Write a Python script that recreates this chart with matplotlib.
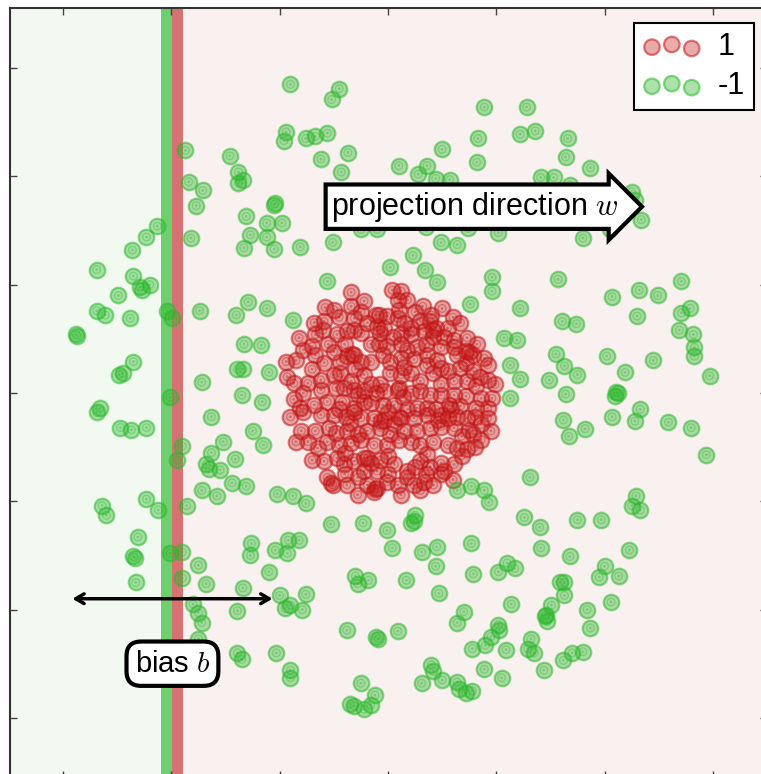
import matplotlib
matplotlib.use("Agg")
import matplotlib.pyplot as plt
import numpy as np

plt.rcParams['font.family'] = ['Liberation Sans', 'DejaVu Sans']
plt.rcParams['mathtext.fontset'] = 'cm'

# class 1 (red) - inner disc
red_points = [
    (-0.34, 0.93), (0.04, 0.95), (0.12, 0.94), (0.09, 0.86), (0.18, 0.86), (-0.22, 0.85),
    (-0.58, 0.79), (-0.50, 0.77), (-0.34, 0.80), (-0.08, 0.72), (-0.01, 0.71), (0.10, 0.77),
    (0.32, 0.80), (0.50, 0.78), (0.67, 0.65),
    (-0.68, 0.65), (-0.59, 0.66), (-0.31, 0.69), (-0.19, 0.65), (-0.11, 0.72), (-0.04, 0.60),
    (0.09, 0.69), (0.21, 0.60), (0.30, 0.66), (0.39, 0.66), (0.44, 0.60), (0.55, 0.60),
    (-0.67, 0.54), (-0.47, 0.54), (-0.38, 0.57), (-0.31, 0.58), (-0.25, 0.55), (-0.07, 0.55),
    (0.12, 0.54), (0.21, 0.54), (0.33, 0.57), (0.42, 0.52), (0.52, 0.52), (0.61, 0.49),
    (0.73, 0.51), (0.75, 0.38), (-0.82, 0.51), (-0.70, 0.43),
    (-0.67, 0.35), (-0.50, 0.38), (-0.38, 0.34), (-0.31, 0.35), (-0.16, 0.45), (-0.08, 0.45),
    (-0.01, 0.43), (0.12, 0.45), (0.18, 0.40), (0.27, 0.42), (0.36, 0.35), (0.49, 0.42),
    (0.61, 0.42), (0.64, 0.35), (0.79, 0.35), (0.89, 0.32),
    (-0.94, 0.29), (-0.59, 0.28), (-0.44, 0.29), (-0.25, 0.29), (-0.16, 0.29), (0.02, 0.29),
    (0.12, 0.32), (0.24, 0.31), (0.36, 0.26), (0.49, 0.23), (0.55, 0.20), (0.67, 0.23),
    (0.79, 0.20), (0.92, 0.26),
    (-0.93, 0.15), (-0.87, 0.09), (-0.74, 0.09), (-0.62, 0.12), (-0.50, 0.17), (-0.44, 0.18),
    (-0.34, 0.11), (-0.22, 0.17), (-0.16, 0.08), (-0.07, 0.08), (0.02, 0.18), (0.12, 0.17),
    (0.21, 0.18), (0.30, 0.11), (0.42, 0.18), (0.49, 0.08), (0.61, 0.11), (0.73, 0.11),
    (0.81, 0.06), (0.92, 0.12), (0.99, 0.08),
    (-0.62, 0.03), (-0.48, 0.05), (-0.41, 0.05), (-0.31, 0.03), (-0.22, 0.02), (-0.11, 0.00),
    (-0.04, 0.02), (0.09, 0.03), (0.21, 0.00), (0.30, 0.02), (0.39, -0.02), (0.49, -0.02),
    (0.61, -0.02), (0.86, -0.05), (0.96, -0.05),
    (-0.87, -0.06), (-0.81, -0.14), (-0.68, -0.11), (-0.56, -0.08), (-0.42, -0.08), (-0.31, -0.14),
    (-0.22, -0.08), (-0.16, -0.09), (-0.05, -0.11), (0.06, -0.11), (0.18, -0.15), (0.27, -0.14),
    (0.36, -0.14), (0.44, -0.15), (0.56, -0.11), (0.67, -0.12), (0.81, -0.14), (0.92, -0.14),
    (-0.78, -0.18), (-0.62, -0.20), (-0.50, -0.20), (-0.39, -0.22), (-0.31, -0.18), (-0.25, -0.23),
    (-0.13, -0.23), (-0.04, -0.25), (0.06, -0.29), (0.12, -0.23), (0.24, -0.23), (0.36, -0.20),
    (0.46, -0.25), (0.55, -0.23), (0.64, -0.22), (0.73, -0.23), (0.86, -0.29), (0.92, -0.23),
    (-0.67, -0.35), (-0.54, -0.32), (-0.48, -0.37), (-0.38, -0.35), (-0.28, -0.38), (-0.19, -0.35),
    (-0.07, -0.32), (0.02, -0.38), (0.15, -0.35), (0.27, -0.35), (0.39, -0.32), (0.49, -0.31),
    (0.61, -0.32), (0.75, -0.34), (0.79, -0.38), (0.86, -0.43),
    (-0.74, -0.45), (-0.65, -0.51), (-0.56, -0.45), (-0.45, -0.48), (-0.34, -0.46), (-0.25, -0.43),
    (-0.13, -0.48), (-0.01, -0.48), (0.10, -0.43), (0.21, -0.45), (0.30, -0.48), (0.42, -0.45),
    (0.55, -0.48), (0.64, -0.51), (0.73, -0.52),
    (-0.59, -0.63), (-0.47, -0.60), (-0.41, -0.66), (-0.31, -0.63), (-0.22, -0.60), (-0.16, -0.65),
    (-0.07, -0.62), (0.06, -0.66), (0.18, -0.72), (0.30, -0.63), (0.39, -0.68), (0.49, -0.65),
    (0.61, -0.66), (0.52, -0.72),
    (-0.56, -0.78), (-0.51, -0.85), (-0.38, -0.85), (-0.28, -0.78), (-0.19, -0.85), (-0.10, -0.88),
    (-0.01, -0.82), (0.09, -0.85), (0.18, -0.78), (0.24, -0.85), (0.33, -0.82), (0.42, -0.85),
    (0.49, -0.75), (-0.28, -0.94), (0.12, -0.94), (-0.13, -0.91),
    (-0.33, 0.36), (-0.06, -0.26), (-0.19, -0.60), (0.58, -0.15), (0.72, 0.39), (-0.53, -0.83),
    (-0.12, -0.89), (0.10, 0.05), (-0.10, 0.61), (0.42, 0.58),
    (-0.45, 0.70), (-0.25, 0.75), (0.25, 0.75), (0.40, 0.72), (0.60, 0.70), (-0.78, 0.40),
    (-0.55, 0.45), (0.05, 0.52), (0.35, 0.45), (0.82, 0.45), (-0.85, 0.30), (-0.05, 0.35),
    (0.45, 0.30), (0.72, 0.28), (-0.70, 0.22), (-0.30, 0.22), (0.15, 0.24), (0.85, 0.15),
    (-0.78, 0.00), (-0.28, -0.02), (0.14, -0.04), (0.72, -0.03), (-0.90, -0.22), (-0.45, -0.15),
    (0.00, -0.18), (0.50, -0.20), (0.80, -0.22), (-0.80, -0.35), (-0.35, -0.28), (0.10, -0.22),
    (0.68, -0.40), (-0.85, -0.45), (-0.40, -0.55), (0.00, -0.58), (0.36, -0.56), (0.80, -0.50),
    (-0.70, -0.62), (-0.10, -0.72), (0.25, -0.68), (0.68, -0.58), (-0.40, -0.75), (0.00, -0.75),
    (0.35, -0.75), (-0.22, -0.72), (0.60, -0.80), (-0.60, 0.58), (0.15, 0.65), (-0.40, 0.45),
    (0.95, -0.35), (0.30, -0.90),
]

# class -1 (green) - outer ring
green_points = [
    (-1.87, 2.24), (-1.46, 2.19), (-1.38, 2.04), (-1.34, 1.97), (-1.38, 1.94), (-1.84, 1.95),
    (-1.71, 1.87), (-1.77, 1.73), (-2.13, 1.54), (-2.23, 1.44), (-1.82, 1.43), (-2.36, 1.32),
    (-1.31, 1.63), (-1.27, 1.46), (-1.33, 1.34),
    (-0.90, 2.85), (-0.45, 2.81), (-0.52, 2.71), (0.89, 2.64), (-0.94, 2.41), (-0.96, 2.33),
    (-0.76, 2.35), (-0.67, 2.37), (-0.56, 2.40), (0.83, 2.35), (0.50, 2.25), (-0.37, 2.22),
    (-0.62, 2.16), (0.82, 2.13), (-0.43, 2.04), (0.10, 2.10), (0.36, 2.10), (0.28, 2.02),
    (0.44, 1.98), (0.57, 1.97), (-1.05, 1.74), (-1.04, 1.75), (-1.12, 1.57), (-0.98, 1.57),
    (-1.12, 1.44), (-1.05, 1.33), (-0.81, 1.35), (-0.51, 1.39), (-0.25, 1.51), (-0.10, 1.51),
    (0.49, 1.39), (0.64, 1.37), (0.23, 1.27), (0.35, 1.53), (0.74, 1.52), (1.02, 1.48),
    (1.28, 2.64), (1.22, 2.39), (1.36, 2.42), (1.66, 2.35), (1.64, 2.18), (1.87, 2.08),
    (1.41, 1.99), (1.53, 1.99), (1.68, 1.92), (2.25, 1.86), (2.28, 1.78), (2.34, 1.60),
    (2.05, 1.51), (1.80, 1.43),
    (-2.69, 1.14), (-2.35, 1.08), (-2.29, 0.98), (-2.20, 1.00), (-2.27, 0.95), (-2.49, 0.90),
    (-2.69, 0.76), (-2.61, 0.72), (-2.38, 0.69), (-2.04, 0.76), (-1.99, 0.69), (-1.74, 0.76),
    (-1.40, 0.72), (-1.29, 0.84), (-2.88, 0.54), (-2.87, 0.53), (-1.33, 0.45), (-1.39, 0.22),
    (-1.34, 0.22), (-2.35, 0.29), (-2.48, 0.17), (-2.45, 0.18), (-1.72, 0.10), (-1.35, -0.02),
    (-2.01, -0.04), (-2.66, -0.14), (-2.69, -0.18), (-1.63, -0.22), (-2.47, -0.32), (-2.37, -0.34),
    (-2.23, -0.32), (-1.90, -0.49), (-1.95, -0.62), (-1.52, -0.45), (-1.63, -0.55), (-1.41, -0.61),
    (-1.68, -0.66), (-1.65, -0.70), (-1.55, -0.71), (-1.72, -0.90), (-1.58, -0.95), (-1.44, -0.83),
    (-1.31, -0.86), (-1.25, -0.35), (-2.23, -0.98), (-2.64, -1.04), (-2.60, -1.13), (-2.12, -1.08),
    (-1.86, -1.04),
    (-2.31, -1.33), (-2.35, -1.51), (-2.34, -1.52), (-2.01, -1.48), (-1.90, -1.47), (-1.75, -1.59),
    (-1.90, -1.71), (-2.33, -1.75), (-1.68, -1.76), (-1.34, -1.80), (-1.80, -1.95), (-1.75, -2.03),
    (-1.72, -2.12), (-1.39, -2.01), (-1.26, -1.39), (-1.27, -1.50), (-1.75, -2.27), (-1.39, -2.40),
    (-1.35, -2.46),
    (-1.04, -1.45), (-0.92, -1.36), (-0.82, -1.36), (-0.93, -1.48), (-1.10, -1.65), (-0.53, -1.21),
    (-0.23, -1.20), (-0.01, -1.27), (0.21, -1.20), (0.24, -1.18), (0.04, -1.43), (0.31, -1.47),
    (0.45, -1.42), (0.44, -1.60), (0.77, -1.39), (0.79, -1.67), (1.02, -1.65), (1.10, -1.57),
    (-0.30, -1.69), (-0.28, -1.76), (-0.18, -1.73), (0.17, -1.73), (0.47, -1.85), (-1.00, -1.87),
    (-0.76, -1.86), (-0.95, -1.99), (-0.90, -1.96), (-0.79, -2.00), (0.70, -2.02), (0.64, -2.12),
    (-0.38, -2.19), (-0.11, -2.25), (-0.09, -2.27), (0.09, -2.20), (1.02, -2.14), (1.03, -2.19),
    (0.95, -2.25), (0.90, -2.33), (0.78, -2.36), (1.09, -2.37), (-1.03, -2.40), (-0.90, -2.56),
    (-0.90, -2.63), (-0.25, -2.68), (0.40, -2.51), (0.42, -2.57), (0.50, -2.65), (0.31, -2.68),
    (0.89, -2.55), (1.05, -2.63), (0.64, -2.67), (0.66, -2.73), (0.72, -2.77), (0.78, -2.75),
    (-0.12, -2.79), (-0.35, -2.87), (-0.31, -2.89), (-0.22, -2.92), (-0.16, -2.88),
    (1.26, -1.15), (1.40, -1.24), (1.75, -1.17), (1.97, -1.17), (1.41, -1.43), (1.68, -1.51),
    (2.23, -1.45), (1.17, -1.62), (2.00, -1.60), (1.95, -1.70), (2.13, -1.69), (1.59, -1.75),
    (1.63, -1.75), (1.63, -1.87), (2.06, -1.93), (1.14, -1.95), (1.51, -1.96), (1.46, -2.05),
    (1.45, -2.06), (1.47, -2.11), (1.84, -2.00), (1.87, -2.17), (1.32, -2.27), (1.29, -2.36),
    (1.35, -2.40), (1.70, -2.40), (1.80, -2.39), (1.62, -2.47), (1.44, -2.56),
    (1.57, 1.05), (1.22, 0.78), (2.07, 0.89), (2.32, 0.95), (2.49, 0.90), (2.71, 1.03),
    (2.79, 0.78), (2.71, 0.74), (1.61, 0.66), (1.74, 0.64), (2.30, 0.71), (2.69, 0.58),
    (2.82, 0.54), (2.83, 0.42), (2.83, 0.34), (1.19, 0.49), (1.55, 0.36), (2.02, 0.34),
    (2.45, 0.30), (1.63, 0.25), (1.75, 0.17), (1.13, 0.26), (1.22, 0.13), (1.49, 0.12),
    (2.19, 0.19), (2.97, 0.16), (2.11, 0.01), (2.12, 0.00), (2.10, -0.03), (1.13, -0.05),
    (1.64, -0.01), (2.33, -0.15), (2.07, -0.22), (2.28, -0.26), (2.59, -0.27), (2.80, -0.32),
    (1.62, -0.25), (1.82, -0.33), (1.67, -0.40), (2.94, -0.57), (1.31, -0.78), (2.29, -0.95),
    (2.25, -1.04), (2.33, -1.08),
    (0.02, 1.16), (0.34, 1.14), (0.45, 1.02), (0.96, 1.07), (0.96, 0.94), (-0.56, 1.03),
    (0.76, 0.82), (-1.12, 0.78), (-0.88, 0.67), (1.07, 0.51), (-1.17, 0.44), (-1.10, 0.19),
    (-1.16, -0.08), (-1.15, -0.48), (-1.02, -0.93), (-0.88, -0.95), (-0.76, -1.02), (0.64, -0.90),
    (0.77, -0.86), (0.89, -0.90), (0.93, -1.01), (0.25, -1.13),
]

# decision boundary pieces (green / red bands) and annotation anchors
green_band = (-2.10, -1.99)
red_band = (-1.99, -1.89)
bias_arrow_x = (-2.94, -1.04)
bias_arrow_y = -1.90

red = np.array(red_points)
green = np.array(green_points)

fig = plt.figure(figsize=(7.61, 7.74), dpi=100)
ax = fig.add_axes([0.01314, -0.0058, 0.9947, 0.9955])
ax.set_xlim(-3.49, 3.5)
ax.set_ylim(-3.56, 3.555)

# background regions
ax.axvspan(-3.49, green_band[0], color='#f1f9f1', zorder=0, lw=0)
ax.axvspan(red_band[1], 3.5, color='#f9f0f0', zorder=0, lw=0)
ax.axvspan(*green_band, color='#6dcf6d', zorder=1, lw=0)
ax.axvspan(*red_band, color='#d87272', zorder=1, lw=0)


def draw_points(pts, col, fa, ea, label):
    h = ax.scatter(pts[:, 0], pts[:, 1], s=125, facecolor=matplotlib.colors.to_rgba(col, fa),
                   edgecolor=matplotlib.colors.to_rgba(col, ea), linewidths=1.6, zorder=3, label=label)
    ax.scatter(pts[:, 0], pts[:, 1], s=30, facecolor='none',
               edgecolor=matplotlib.colors.to_rgba(col, 0.35), linewidths=1.0, zorder=3)
    ax.scatter(pts[:, 0], pts[:, 1], s=4, facecolor=matplotlib.colors.to_rgba(col, 0.4),
               edgecolor='none', zorder=3)
    return h


h1 = draw_points(red, '#c41414', 0.36, 0.55, '1')
h2 = draw_points(green, '#2cb82c', 0.40, 0.55, '-1')

ax.set_xticks(np.arange(-3, 4))
ax.set_yticks(np.arange(-3, 4))
ax.set_xticklabels([])
ax.set_yticklabels([])
ax.tick_params(direction='in', length=5, width=1, top=True, right=True, color='#444444')
for sp in ax.spines.values():
    sp.set_linewidth(1.5)
    sp.set_color('#333333')

# projection direction arrow box
ax.text(0.80, 1.72, 'projection direction $w$', fontsize=22, ha='center', va='center', zorder=6,
        bbox=dict(boxstyle='rarrow,pad=0.17', fc='white', ec='black', lw=3))

# bias arrow
ax.annotate('', xy=(bias_arrow_x[0], bias_arrow_y), xytext=(bias_arrow_x[1], bias_arrow_y),
            arrowprops=dict(arrowstyle='<->,head_length=0.6,head_width=0.35', color='black', lw=2.5),
            zorder=6)
ax.text(-1.99, -2.50, 'bias $b$', fontsize=21, ha='center', va='center', zorder=6,
        bbox=dict(boxstyle='round,pad=0.28,rounding_size=0.5', fc='white', ec='black', lw=3))

leg = ax.legend(handles=[h1, h2], loc='upper right', bbox_to_anchor=(0.983, 0.9805),
                borderaxespad=0, scatterpoints=3, fontsize=22, fancybox=False,
                framealpha=1, edgecolor='black', handlelength=1.9, handletextpad=0.55,
                labelspacing=0.3, borderpad=0.3)
leg.get_frame().set_linewidth(1.5)
leg.set_zorder(7)

fig.savefig('out.png', dpi=100)
